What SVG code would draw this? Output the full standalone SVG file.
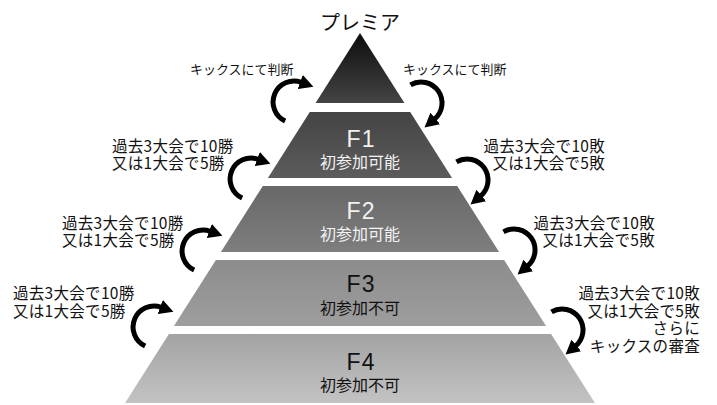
<svg xmlns="http://www.w3.org/2000/svg" width="717" height="405" viewBox="0 0 717 405">
<style>
.jp{font-family:"Noto Sans CJK JP","Noto Sans",sans-serif;fill:#111}
.title{font-size:20px;text-anchor:middle}
.note{font-size:13px}
.cond{font-size:15.5px;letter-spacing:0.3px}
.end{text-anchor:end}
.lvl{font-family:"Liberation Sans",Arial,sans-serif;font-size:23px;text-anchor:middle;letter-spacing:1px}
.sub{font-size:16px;text-anchor:middle}
.light{fill:#f2f2f2}
.dark{fill:#111}
.arrow{fill:none;stroke:#000;stroke-width:5}
</style>
<defs>
<linearGradient id="g0" x1="0" y1="0" x2="0" y2="1"><stop offset="0" stop-color="#0d0d0d"/><stop offset="1" stop-color="#444"/></linearGradient>
<linearGradient id="g1" x1="0" y1="0" x2="0" y2="1"><stop offset="0" stop-color="#444"/><stop offset="1" stop-color="#5c5c5c"/></linearGradient>
<linearGradient id="g2" x1="0" y1="0" x2="0" y2="1"><stop offset="0" stop-color="#686868"/><stop offset="1" stop-color="#7e7e7e"/></linearGradient>
<linearGradient id="g3" x1="0" y1="0" x2="0" y2="1"><stop offset="0" stop-color="#8c8c8c"/><stop offset="1" stop-color="#9e9e9e"/></linearGradient>
<linearGradient id="g4" x1="0" y1="0" x2="0" y2="1"><stop offset="0" stop-color="#a3a3a3"/><stop offset="1" stop-color="#c3c3c3"/></linearGradient>
<marker id="head" viewBox="0 -8 15 16" refX="1" refY="0" markerWidth="15" markerHeight="16" markerUnits="userSpaceOnUse" orient="auto">
<path d="M0,-7.5 L14,0 L0,7.5 Z" fill="#000"/>
</marker>
</defs>
<g id="premier">
<polygon points="360,33 404.45,103 315.55,103" fill="url(#g0)"/>
<text class="jp title" x="360" y="30">プレミア</text>
</g>
<g id="f1">
<polygon points="309.8,112 410.2,112 452.1,178 267.9,178" fill="url(#g1)"/>
<text class="lvl light" x="361" y="147">F1</text>
<text class="jp sub light" x="360" y="168">初参加可能</text>
</g>
<g id="f2">
<polygon points="262.8,186 457.2,186 499.1,252 220.9,252" fill="url(#g2)"/>
<text class="lvl light" x="361" y="219">F2</text>
<text class="jp sub light" x="360" y="240">初参加可能</text>
</g>
<g id="f3">
<polygon points="215.9,260 504.1,260 546.1,326 173.9,326" fill="url(#g3)"/>
<text class="lvl dark" x="361" y="292">F3</text>
<text class="jp sub dark" x="360" y="314">初参加不可</text>
</g>
<g id="f4">
<polygon points="168.9,334 551.1,334 594.95,403 125.05,403" fill="url(#g4)"/>
<text class="lvl dark" x="361" y="370">F4</text>
<text class="jp sub dark" x="360" y="391">初参加不可</text>
</g>
<g id="labels">
<text class="jp note" x="190" y="73.5">キックスにて判断</text>
<text class="jp note" x="403" y="73.5">キックスにて判断</text>
<text class="jp cond" x="112" y="152">過去3大会で10勝</text>
<text class="jp cond" x="112" y="169">又は1大会で5勝</text>
<text class="jp cond" x="62" y="229">過去3大会で10勝</text>
<text class="jp cond" x="62" y="246">又は1大会で5勝</text>
<text class="jp cond" x="13" y="299">過去3大会で10勝</text>
<text class="jp cond" x="13" y="317">又は1大会で5勝</text>
<text class="jp cond end" x="605" y="152">過去3大会で10敗</text>
<text class="jp cond end" x="605" y="169">又は1大会で5敗</text>
<text class="jp cond end" x="655" y="229">過去3大会で10敗</text>
<text class="jp cond end" x="655" y="246">又は1大会で5敗</text>
<text class="jp cond end" x="700" y="299">過去3大会で10敗</text>
<text class="jp cond end" x="700" y="317">又は1大会で5敗</text>
<text class="jp cond end" x="700" y="334">さらに</text>
<text class="jp cond end" x="700" y="352">キックスの審査</text>
</g>
<g id="connectors">
<path class="arrow" marker-end="url(#head)" d="M285.13,121.03 A21,21 0 0 1 301.18,82.27"/>
<path class="arrow" marker-end="url(#head)" d="M242.13,198.03 A21,21 0 0 1 258.18,159.27"/>
<path class="arrow" marker-end="url(#head)" d="M194.13,270.03 A21,21 0 0 1 210.18,231.27"/>
<path class="arrow" marker-end="url(#head)" d="M145.13,346.03 A21,21 0 0 1 161.18,307.27"/>
<path class="arrow" marker-end="url(#head)" d="M410.5,84.81 A21,21 0 0 1 434.5,119.09"/>
<path class="arrow" marker-end="url(#head)" d="M456.5,161.81 A21,21 0 0 1 480.5,196.09"/>
<path class="arrow" marker-end="url(#head)" d="M503.5,231.81 A21,21 0 0 1 527.5,266.09"/>
<path class="arrow" marker-end="url(#head)" d="M551.5,311.81 A21,21 0 0 1 575.5,346.09"/>
</g>
</svg>
